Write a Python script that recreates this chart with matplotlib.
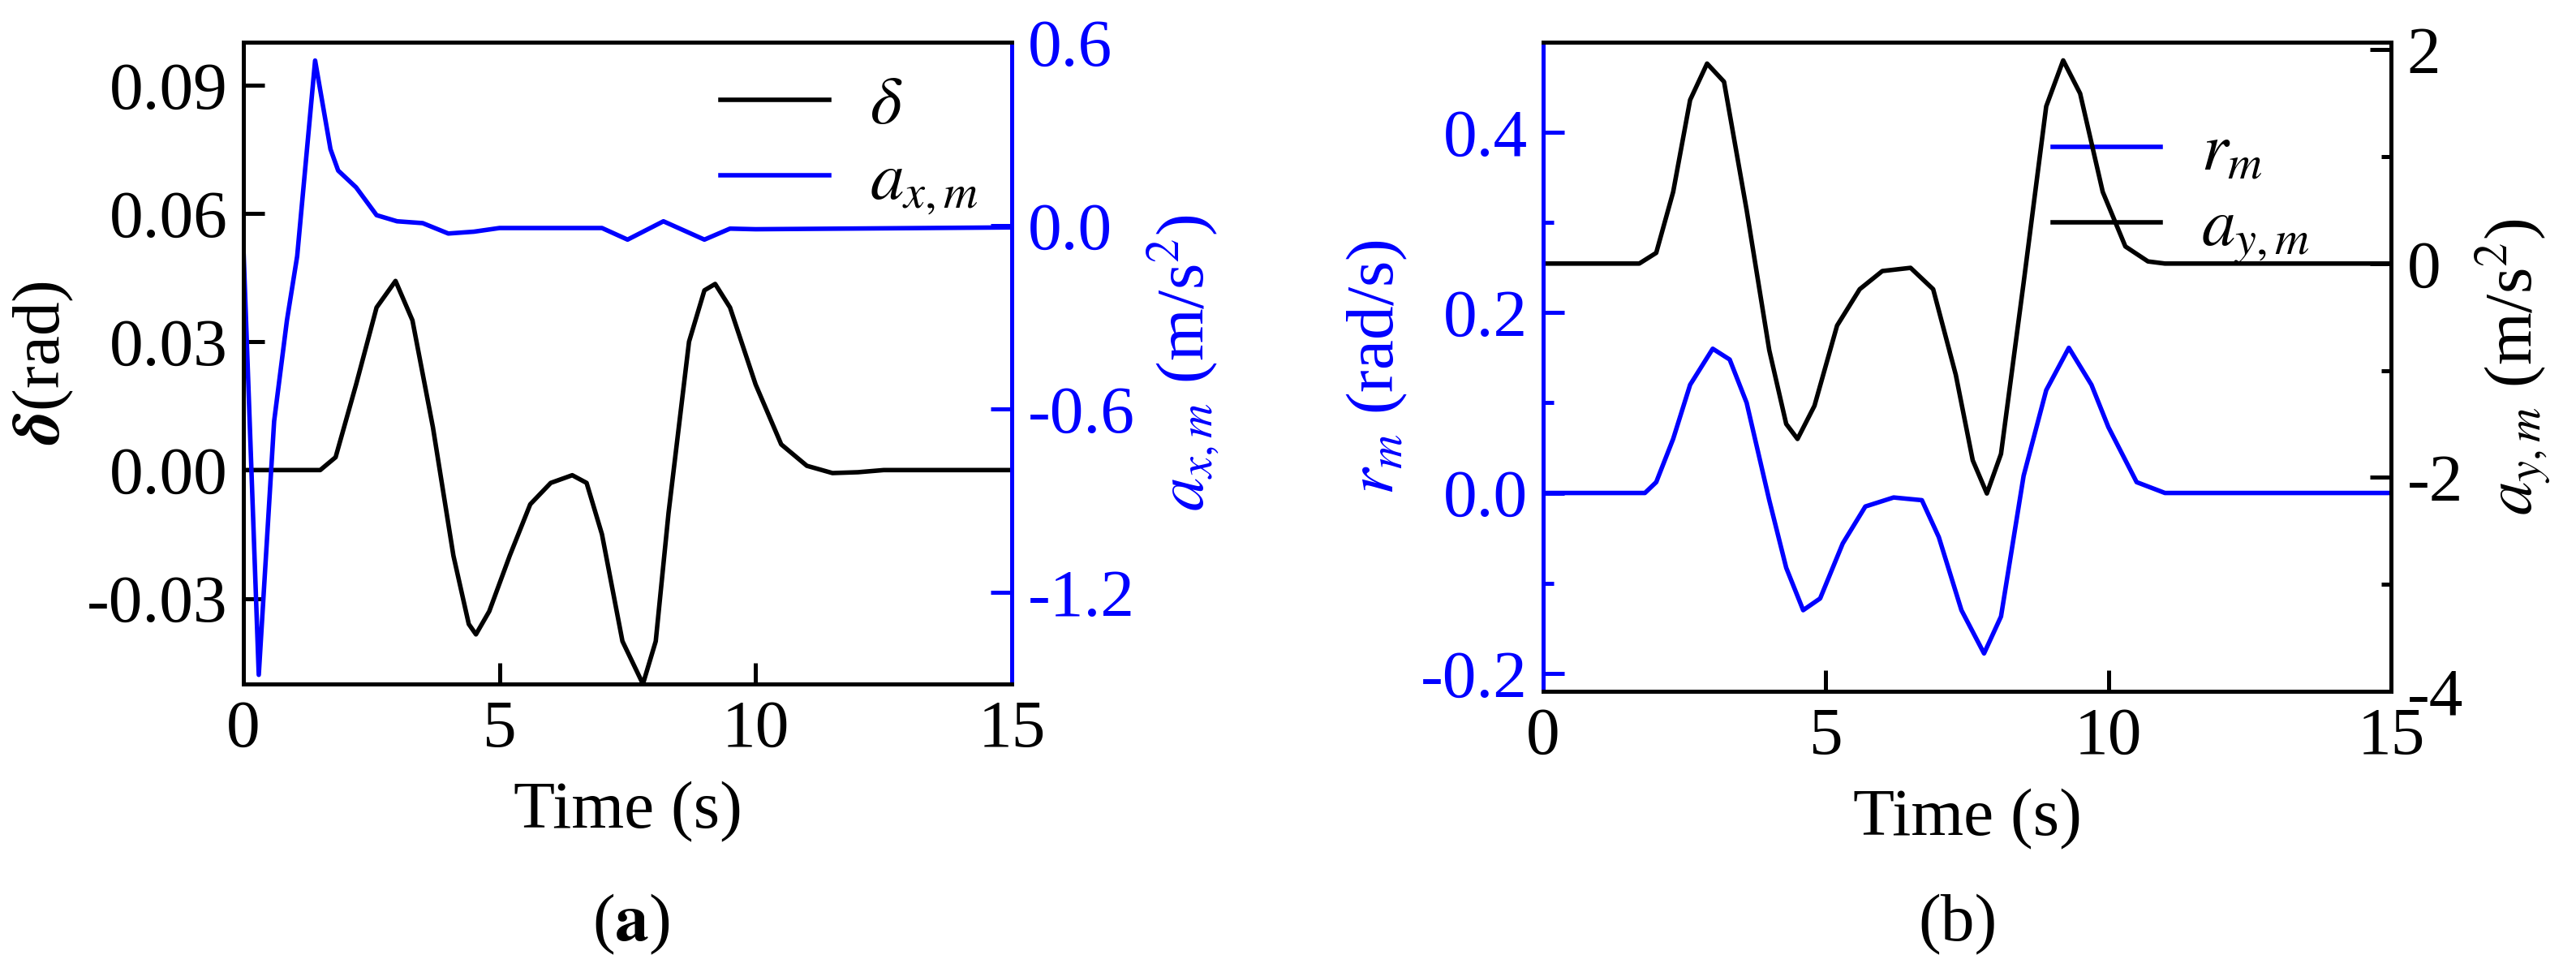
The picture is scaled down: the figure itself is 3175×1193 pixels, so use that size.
import matplotlib
matplotlib.use("Agg")
import matplotlib.pyplot as plt
from matplotlib.ticker import MultipleLocator

plt.rcParams['font.family'] = ['Liberation Serif', 'DejaVu Serif']
plt.rcParams['mathtext.fontset'] = 'stix'
plt.rcParams['axes.unicode_minus'] = False

# Panel (a)
t_delta = [0, 1.5, 1.8, 2.2, 2.6, 2.97, 3.3, 3.7, 4.1, 4.4, 4.54, 4.8, 5.2, 5.6, 6.0, 6.42, 6.7, 7.0, 7.4, 7.8, 8.05, 8.3, 8.7, 9.0, 9.21, 9.5, 10.0, 10.5, 11.0, 11.5, 12.0, 12.5, 15]
delta = [0, 0, 0.003, 0.02, 0.038, 0.0442, 0.035, 0.01, -0.02, -0.036, -0.0384, -0.033, -0.02, -0.008, -0.003, -0.0012, -0.003, -0.015, -0.04, -0.0500, -0.04, -0.01, 0.03, 0.042, 0.0435, 0.038, 0.02, 0.006, 0.001, -0.0007, -0.0005, 0.0, 0]
t_ax = [0, 0.3, 0.6, 0.85, 1.05, 1.4, 1.7, 1.85, 2.2, 2.6, 3.0, 3.5, 4.0, 4.5, 5.0, 6.0, 7.0, 7.5, 8.2, 9.0, 9.5, 10.0, 15]
ax_m = [-0.07, -1.47, -0.64, -0.31, -0.10, 0.54, 0.25, 0.18, 0.125, 0.034, 0.014, 0.008, -0.026, -0.02, -0.008, -0.008, -0.008, -0.046, 0.014, -0.046, -0.01, -0.012, -0.006]

# Panel (b)
t_r = [0, 1.8, 2.0, 2.3, 2.6, 3.0, 3.3, 3.6, 4.0, 4.3, 4.6, 4.9, 5.3, 5.7, 6.2, 6.7, 7.0, 7.4, 7.8, 8.1, 8.5, 8.9, 9.3, 9.7, 10.0, 10.5, 11.0, 15]
r_m = [0, 0, 0.012, 0.06, 0.12, 0.16, 0.148, 0.1, -0.008, -0.083, -0.13, -0.117, -0.056, -0.015, -0.005, -0.008, -0.049, -0.13, -0.178, -0.137, 0.019, 0.114, 0.161, 0.12, 0.073, 0.012, 0, 0]
t_ay = [0, 1.7, 2.0, 2.3, 2.6, 2.9, 3.2, 3.6, 4.0, 4.3, 4.5, 4.8, 5.2, 5.6, 6.0, 6.5, 6.9, 7.3, 7.6, 7.85, 8.1, 8.5, 8.9, 9.2, 9.5, 9.9, 10.3, 10.7, 11.0, 15]
ay_m = [0, 0, 0.1, 0.67, 1.53, 1.87, 1.7, 0.5, -0.81, -1.5, -1.64, -1.33, -0.58, -0.24, -0.07, -0.04, -0.24, -1.04, -1.84, -2.15, -1.78, -0.18, 1.47, 1.9, 1.59, 0.67, 0.16, 0.02, 0, 0]

BLUE = '#0000ff'
FS = 60
LW = 4

fig = plt.figure(figsize=(31.75, 11.93), dpi=100)

def style(ax):
    ax.tick_params(direction='in', length=19, width=3.6, labelsize=FS, pad=14)
    ax.tick_params(which='minor', direction='in', length=9, width=3.6)
    for s in ax.spines.values():
        s.set_linewidth(3.6)

# (a)
a1 = fig.add_axes([300/3175, 1-843/1193, 947/3175, 791/1193])
a2 = a1.twinx()
l1, = a1.plot(t_delta, delta, color='k', lw=LW, label=r'$\delta$')
l2, = a2.plot(t_ax, ax_m, color=BLUE, lw=LW, label=r'$a_{x,m}$')
a1.set_xlim(0, 15); a1.set_ylim(-0.05, 0.1)
a2.set_ylim(-1.5, 0.6)
a1.set_xticks([0, 5, 10, 15])
a1.set_yticks([-0.03, 0, 0.03, 0.06, 0.09])
a1.set_yticklabels(['-0.03', '0.00', '0.03', '0.06', '0.09'])
a2.set_yticks([-1.2, -0.6, 0.0, 0.6])
a2.set_yticklabels(['-1.2', '-0.6', '0.0', '0.6'])
for a in (a1, a2): style(a)
a2.spines['right'].set_color(BLUE)
a2.tick_params(axis='y', colors=BLUE)
a1.set_xlabel('Time (s)', fontsize=FS, labelpad=18)
a1.set_ylabel(r'$\boldsymbol{\delta}$(rad)', fontsize=FS, labelpad=10)
a2.set_ylabel(r'$a_{x,m}$ (m/s$^2$)', fontsize=FS, color=BLUE, labelpad=10)
a1.legend(handles=[l1, l2], loc='upper right', fontsize=FS, frameon=False, handlelength=1.6, labelspacing=0.2, borderaxespad=0.1, handletextpad=0.6)
fig.text(0.245, 0.045, r'($\mathbf{a}$)', fontsize=FS, ha='center', va='center')

# (b)
b1 = fig.add_axes([1902/3175, 1-852/1193, 1045/3175, 800/1193])
b2 = b1.twinx()
m1, = b1.plot(t_r, r_m, color=BLUE, lw=LW, label=r'$r_m$')
m2, = b2.plot(t_ay, ay_m, color='k', lw=LW, label=r'$a_{y,m}$')
b1.set_xlim(0, 15); b1.set_ylim(-0.22, 0.5)
b2.set_ylim(-4, 2.07)
b1.set_xticks([0, 5, 10, 15])
b1.set_yticks([-0.2, 0.0, 0.2, 0.4])
b1.yaxis.set_minor_locator(MultipleLocator(0.1))
b2.set_yticks([-4, -2, 0, 2])
b2.yaxis.set_minor_locator(MultipleLocator(1))
for a in (b1, b2): style(a)
b2.spines['left'].set_color(BLUE)
b1.tick_params(axis='y', which='both', colors=BLUE)
b1.set_xlabel('Time (s)', fontsize=FS, labelpad=18)
b1.set_ylabel(r'$\boldsymbol{r_m}$ (rad/s)', fontsize=FS, color=BLUE, labelpad=10)
b2.set_ylabel(r'$a_{y,m}$ (m/s$^2$)', fontsize=FS, labelpad=10)
b1.legend(handles=[m1, m2], loc='upper right', fontsize=FS, frameon=False, handlelength=1.6, labelspacing=0.2, borderaxespad=0.8, handletextpad=0.6)
fig.text(0.76, 0.045, '(b)', fontsize=FS, ha='center', va='center')

fig.savefig('out.png', dpi=100)
